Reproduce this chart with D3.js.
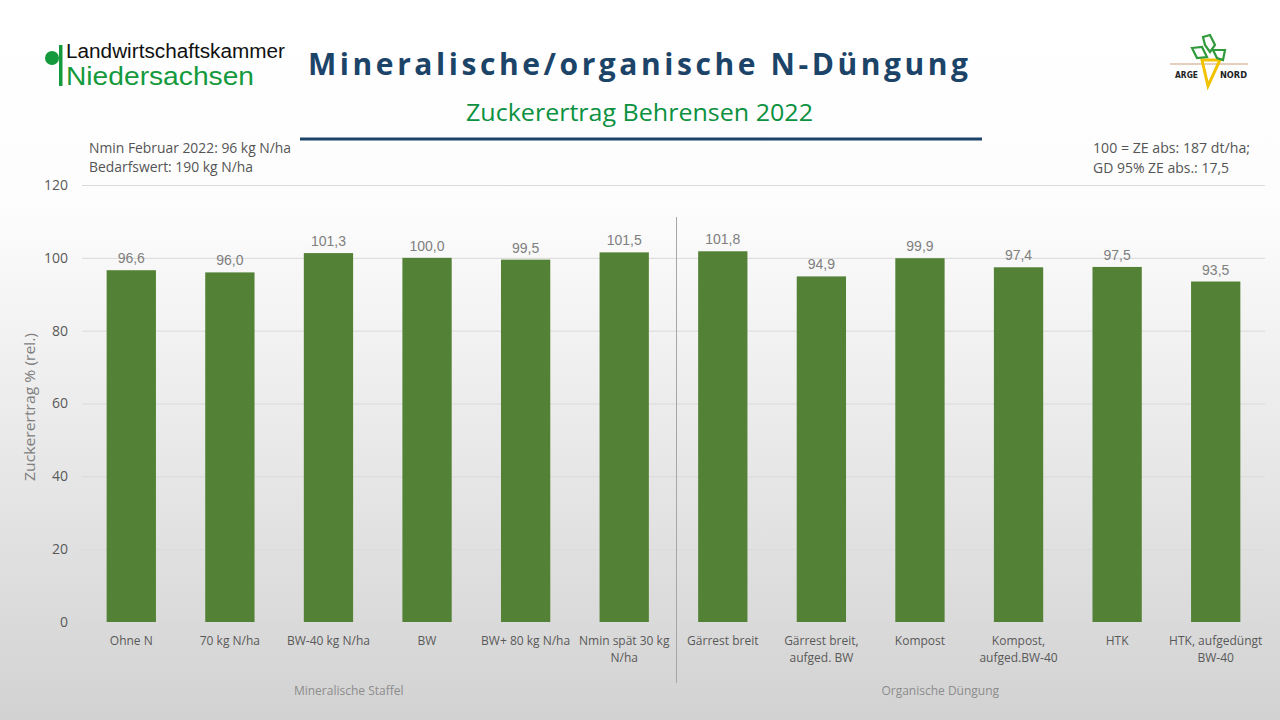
<!DOCTYPE html>
<html>
<head>
<meta charset="utf-8">
<script src="https://cdn.jsdelivr.net/npm/d3@7"></script>
<style>
  body { margin: 0; padding: 0; overflow: hidden; }
  svg { display: block; }
</style>
</head>
<body>
<div id="chart"></div>
<script>
// data
var categories = ["Ohne N", "70 kg N/ha", "BW-40 kg N/ha", "BW", "BW+ 80 kg N/ha", "Nmin spät 30 kg\nN/ha",
                  "Gärrest breit", "Gärrest breit,\naufged. BW", "Kompost", "Kompost,\naufged.BW-40", "HTK", "HTK, aufgedüngt\nBW-40"];
var values = [96.6, 96.0, 101.3, 100.0, 99.5, 101.5, 101.8, 94.9, 99.9, 97.4, 97.5, 93.5];
var groups = ["Mineralische Staffel", "Organische Düngung"];
var groupSizes = [6, 6];
var yTicks = [0, 20, 40, 60, 80, 100, 120];

var W = 1280, H = 720;
var margin = {top: 185, left: 82, right: 15, bottom: 98};
var width = W - margin.left - margin.right,
    height = H - margin.top - margin.bottom;

var svg = d3.select("#chart").append("svg")
  .attr("width", W).attr("height", H);

// background gradient
var defs = svg.append("defs");
var grad = defs.append("linearGradient").attr("id", "bg")
  .attr("x1", 0).attr("y1", 0).attr("x2", 0).attr("y2", 1);
grad.append("stop").attr("offset", "0%").attr("stop-color", "#ffffff");
grad.append("stop").attr("offset", "28%").attr("stop-color", "#fdfdfd");
grad.append("stop").attr("offset", "100%").attr("stop-color", "#d2d2d2");
svg.append("rect").attr("width", W).attr("height", H).attr("fill", "url(#bg)");

// header
svg.append("text")
  .attr("x", 308).attr("y", 75)
  .attr("textLength", 660).attr("lengthAdjust", "spacing")
  .style("font-family", "'Open Sans', sans-serif").style("font-weight", "bold")
  .style("font-size", "30px").style("fill", "#1c4468")
  .text("Mineralische/organische N-Düngung");

svg.append("text")
  .attr("x", 466).attr("y", 121)
  .attr("textLength", 347).attr("lengthAdjust", "spacingAndGlyphs")
  .style("font-family", "'Open Sans', sans-serif")
  .style("font-size", "24px").style("fill", "#0b9140")
  .text("Zuckerertrag Behrensen 2022");

svg.append("line")
  .attr("x1", 300).attr("x2", 982).attr("y1", 139).attr("y2", 139)
  .attr("stroke", "#1c4468").attr("stroke-width", 3);

// left logo
svg.append("circle").attr("cx", 52).attr("cy", 58).attr("r", 7).attr("fill", "#149a3c");
svg.append("rect").attr("x", 59).attr("y", 45).attr("width", 3.5).attr("height", 41).attr("fill", "#149a3c");
svg.append("text").attr("x", 66).attr("y", 58)
  .attr("textLength", 219).attr("lengthAdjust", "spacingAndGlyphs")
  .style("font-family", "'Liberation Sans', sans-serif").style("font-size", "19.5px").style("fill", "#111")
  .text("Landwirtschaftskammer");
svg.append("text").attr("x", 66).attr("y", 85)
  .attr("textLength", 188).attr("lengthAdjust", "spacingAndGlyphs")
  .style("font-family", "'Liberation Sans', sans-serif").style("font-size", "25px").style("fill", "#149a3c")
  .text("Niedersachsen");

// right logo (ARGE NORD)
var logo = svg.append("g");
logo.append("line").attr("x1", 1170).attr("x2", 1248).attr("y1", 64).attr("y2", 64)
  .attr("stroke", "#c8a07a").attr("stroke-width", 1);
logo.append("path").attr("d", "M1202,60 L1220,60 L1208,86 Z")
  .attr("fill", "none").attr("stroke", "#f2c200").attr("stroke-width", 3);
logo.append("path")
  .attr("d", "M1203,37 L1210,35 L1215,45 L1210,52 L1205,45 Z M1192,48 L1202,47 L1207,57 L1197,58 Z M1213,50 L1225,50 L1223,60 L1217,58 Z")
  .attr("fill", "none").attr("stroke", "#2f9a3a").attr("stroke-width", 2.2);
logo.append("text").attr("x", 1175).attr("y", 78)
  .attr("textLength", 23).attr("lengthAdjust", "spacingAndGlyphs")
  .style("font-family", "'DejaVu Sans', sans-serif").style("font-weight", "bold")
  .style("font-size", "9px").style("fill", "#222").text("ARGE");
logo.append("text").attr("x", 1220).attr("y", 78)
  .attr("textLength", 27).attr("lengthAdjust", "spacingAndGlyphs")
  .style("font-family", "'DejaVu Sans', sans-serif").style("font-weight", "bold")
  .style("font-size", "9px").style("fill", "#222").text("NORD");

// notes
var noteStyle = function(sel) {
  sel.style("font-family", "'Open Sans', sans-serif").style("font-size", "13.8px").style("fill", "#555");
};
svg.append("text").attr("x", 89).attr("y", 153).call(noteStyle)
  .attr("textLength", 202).attr("lengthAdjust", "spacingAndGlyphs").text("Nmin Februar 2022: 96 kg N/ha");
svg.append("text").attr("x", 89).attr("y", 172).call(noteStyle)
  .attr("textLength", 164).attr("lengthAdjust", "spacingAndGlyphs").text("Bedarfswert: 190 kg N/ha");
svg.append("text").attr("x", 1093).attr("y", 153).call(noteStyle)
  .attr("textLength", 157).attr("lengthAdjust", "spacingAndGlyphs").text("100 = ZE abs: 187 dt/ha;");
svg.append("text").attr("x", 1093).attr("y", 173).call(noteStyle)
  .attr("textLength", 136).attr("lengthAdjust", "spacingAndGlyphs").text("GD 95% ZE abs.: 17,5");

var g = svg.append("g").attr("transform", "translate(" + margin.left + "," + margin.top + ")");

// scales
var x = d3.scaleBand().domain(categories).range([0, width]).paddingInner(0.5).paddingOuter(0.25);
var y = d3.scaleLinear().domain([0, 120]).range([height, 0]);

// gridlines
g.append("g")
  .call(d3.axisLeft(y).tickValues(yTicks).tickSize(-width).tickFormat(""))
  .call(function(a) { a.select(".domain").remove(); })
  .selectAll("line").attr("stroke", "#d9d9d9");

// y tick labels
g.append("g").selectAll("text").data(yTicks).enter().append("text")
  .attr("x", -14).attr("y", function(d) { return y(d); }).attr("dy", "0.35em")
  .attr("text-anchor", "end")
  .style("font-family", "'Open Sans', sans-serif").style("font-size", "14px").style("fill", "#595959")
  .text(function(d) { return d; });

// y axis title
svg.append("text")
  .attr("transform", "translate(35,407) rotate(-90)")
  .attr("text-anchor", "middle")
  .attr("textLength", 148).attr("lengthAdjust", "spacingAndGlyphs")
  .style("font-family", "'Open Sans', sans-serif").style("font-size", "15px").style("fill", "#7f7f7f")
  .text("Zuckerertrag % (rel.)");

// bars
g.selectAll(".bar").data(values).enter().append("rect")
  .attr("x", function(d, i) { return x(categories[i]); })
  .attr("y", function(d) { return y(d); })
  .attr("width", x.bandwidth())
  .attr("height", function(d) { return height - y(d); })
  .attr("fill", "#538135");

// value labels
g.selectAll(".val").data(values).enter().append("text")
  .attr("x", function(d, i) { return x(categories[i]) + x.bandwidth() / 2; })
  .attr("y", function(d) { return y(d) - 7; })
  .attr("text-anchor", "middle")
  .style("font-family", "'Liberation Sans Narrow', 'Liberation Sans', sans-serif").style("font-size", "14px").style("fill", "#7f7f7f")
  .text(function(d) { return d3.format(".1f")(d).replace(".", ","); });

// category labels
var cat = g.selectAll(".cat").data(categories).enter().append("text")
  .attr("x", function(d) { return x(d) + x.bandwidth() / 2; })
  .attr("y", height + 23)
  .attr("text-anchor", "middle")
  .style("font-family", "'Open Sans', sans-serif").style("font-size", "12px").style("fill", "#595959");
cat.each(function(d) {
  var t = d3.select(this);
  d.split("\n").forEach(function(line, k) {
    t.append("tspan").attr("x", t.attr("x")).attr("dy", k === 0 ? 0 : 17).text(line);
  });
});

// group separator and group labels
var step = x.step();
var start = 0;
groups.forEach(function(name, gi) {
  var first = categories[start], last = categories[start + groupSizes[gi] - 1];
  var left = x(first) - (step - x.bandwidth()) / 2;
  var right = x(last) + x.bandwidth() + (step - x.bandwidth()) / 2;
  g.append("text")
    .attr("x", (left + right) / 2 - 29).attr("y", height + 73)
    .attr("text-anchor", "middle")
    .style("font-family", "'Open Sans', sans-serif").style("font-size", "12px").style("fill", "#8c8c8c")
    .text(name);
  if (gi > 0) {
    g.append("line").attr("x1", left + 3).attr("x2", left + 3)
      .attr("y1", 32).attr("y2", height + 61)
      .attr("stroke", "#a6a6a6").attr("stroke-width", 1);
  }
  start += groupSizes[gi];
});
</script>
</body>
</html>
